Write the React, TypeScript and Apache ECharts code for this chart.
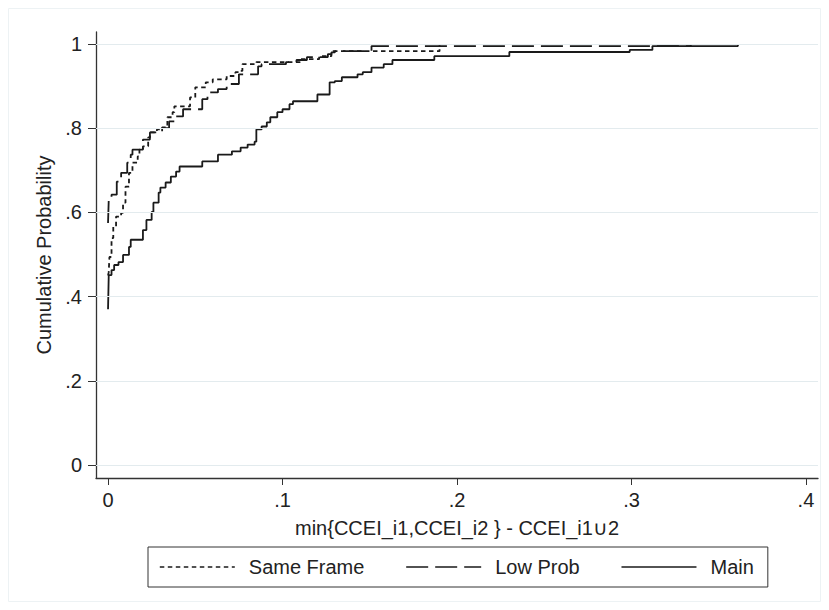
import React, { useEffect, useRef } from 'react';
import * as echarts from 'echarts';

const seriesNames = ['Same Frame', 'Low Prob', 'Main'];

const sameFrame: [number, number][] = [
  [0, 0.45], [0.0004, 0.458], [0.0008, 0.494], [0.002, 0.539], [0.003, 0.566],
  [0.0046, 0.59], [0.0075, 0.599], [0.0086, 0.623], [0.010, 0.661], [0.012, 0.694],
  [0.014, 0.718], [0.017, 0.733], [0.018, 0.749], [0.020, 0.757], [0.023, 0.778],
  [0.024, 0.79], [0.028, 0.797], [0.031, 0.802], [0.034, 0.826], [0.037, 0.838],
  [0.038, 0.852], [0.047, 0.873], [0.050, 0.897], [0.056, 0.909], [0.060, 0.916],
  [0.068, 0.924], [0.073, 0.933], [0.075, 0.936], [0.077, 0.952], [0.085, 0.957],
  [0.110, 0.964], [0.121, 0.971], [0.128, 0.976], [0.129, 0.983], [0.190, 1.0],
];

const lowProb: [number, number][] = [
  [0, 0.575], [0.0004, 0.63], [0.002, 0.642], [0.005, 0.673], [0.0075, 0.694],
  [0.011, 0.718], [0.013, 0.737], [0.014, 0.749], [0.020, 0.773], [0.024, 0.79],
  [0.031, 0.80], [0.035, 0.816], [0.038, 0.828], [0.043, 0.845], [0.054, 0.869],
  [0.057, 0.885], [0.063, 0.893], [0.068, 0.905], [0.075, 0.928], [0.086, 0.947],
  [0.088, 0.952], [0.102, 0.957], [0.108, 0.962], [0.114, 0.969], [0.126, 0.976],
  [0.128, 0.98], [0.130, 0.983], [0.151, 0.995], [0.334, 1.0],
];

const mainData: [number, number][] = [
  [0, 0.37], [0.0004, 0.451], [0.002, 0.463], [0.0035, 0.475], [0.006, 0.482],
  [0.0086, 0.499], [0.012, 0.518], [0.013, 0.535], [0.020, 0.558], [0.022, 0.582],
  [0.025, 0.601], [0.026, 0.623], [0.029, 0.647], [0.030, 0.659], [0.033, 0.671],
  [0.036, 0.685], [0.039, 0.697], [0.041, 0.709], [0.054, 0.721], [0.063, 0.737],
  [0.071, 0.745], [0.076, 0.754], [0.080, 0.761], [0.084, 0.768], [0.085, 0.797],
  [0.088, 0.804], [0.091, 0.814], [0.093, 0.826], [0.097, 0.838], [0.100, 0.845],
  [0.104, 0.857], [0.106, 0.864], [0.120, 0.88], [0.127, 0.909], [0.130, 0.912],
  [0.134, 0.921], [0.143, 0.928], [0.146, 0.933], [0.151, 0.944], [0.158, 0.952],
  [0.163, 0.962], [0.187, 0.971], [0.230, 0.981], [0.299, 0.986], [0.312, 0.995],
  [0.361, 1.0],
];

const xTicks = [0, 0.1, 0.2, 0.3, 0.4];
const yTicks = [0, 0.2, 0.4, 0.6, 0.8, 1];
const xTitle = 'min{CCEI_i1,CCEI_i2 } - CCEI_i1\u222A2';
const yTitle = 'Cumulative Probability';

const FONT = '"Liberation Sans", Arial, Helvetica, sans-serif';
const INK = '#1a1a1a';

const fmt = (v: number) => {
  const s = String(Math.round(v * 10) / 10);
  return s.startsWith('0.') ? s.slice(1) : s;
};

export default function App() {
  const ref = useRef<HTMLDivElement>(null);
  useEffect(() => {
    if (!ref.current) return;
    const chart = echarts.init(ref.current, undefined, { renderer: 'svg' });
    const lineBase = { type: 'line', step: 'end', symbol: 'none', showSymbol: false, z: 3 };
    chart.setOption({
      animation: false,
      backgroundColor: '#ffffff',
      textStyle: { fontFamily: FONT },
      grid: { left: 96, right: 11, top: 32, bottom: 132, containLabel: false, outerBoundsMode: 'none' },
      graphic: [
        {
          type: 'rect',
          shape: { x: 8.5, y: 8.5, width: 812, height: 593 },
          style: { fill: 'none', stroke: '#edf2f4', lineWidth: 1 },
          silent: true,
          z: 0,
        },
      ],
      legend: {
        data: seriesNames,
        left: 148,
        top: 547,
        orient: 'horizontal',
        itemWidth: 75,
        itemHeight: 14,
        itemGap: 41,
        padding: [10, 14, 10, 11],
        borderColor: '#333',
        borderWidth: 1,
        itemStyle: { opacity: 0, borderWidth: 0 },
        lineStyle: { width: 1.6 },
        textStyle: { fontSize: 20, color: '#222', fontFamily: FONT, padding: [0, 0, 0, 9] },
      },
      xAxis: {
        type: 'value',
        min: -0.0069,
        max: 0.4069,
        axisLine: { show: true, onZero: false, lineStyle: { color: '#333', width: 1.3 } },
        axisTick: { show: true, length: 7, customValues: xTicks, lineStyle: { color: '#333', width: 1 } },
        axisLabel: { customValues: xTicks, formatter: fmt, fontSize: 20, color: '#222', margin: 12, fontFamily: FONT },
        splitLine: { show: false },
        name: xTitle,
        nameLocation: 'middle',
        nameGap: 40,
        nameTextStyle: { fontSize: 20, color: '#222', fontFamily: FONT },
      },
      yAxis: {
        type: 'value',
        min: -0.031,
        max: 1.0285,
        axisLine: { show: true, onZero: false, lineStyle: { color: '#333', width: 1.3 } },
        axisTick: { show: true, length: 8, customValues: yTicks, lineStyle: { color: '#333', width: 1 } },
        axisLabel: { customValues: yTicks, formatter: fmt, fontSize: 20, color: '#222', margin: 14, fontFamily: FONT },
        splitLine: { show: false },
        name: yTitle,
        nameLocation: 'middle',
        nameGap: 42,
        nameTextStyle: { fontSize: 20, color: '#222', fontFamily: FONT },
      },
      series: [
        {
          name: '__grid',
          type: 'line',
          data: [],
          z: 1,
          markLine: {
            silent: true,
            symbol: 'none',
            label: { show: false },
            lineStyle: { color: '#e3ebee', type: 'solid', width: 1 },
            data: yTicks.map((v) => ({ yAxis: v })),
          },
        },
        { ...lineBase, name: seriesNames[0], data: sameFrame, lineStyle: { color: INK, width: 1.8, type: [4.5, 3.5] }, itemStyle: { color: INK } },
        { ...lineBase, name: seriesNames[1], data: lowProb, lineStyle: { color: INK, width: 1.8, type: [22, 7] }, itemStyle: { color: INK } },
        { ...lineBase, name: seriesNames[2], data: mainData, lineStyle: { color: INK, width: 1.8, type: 'solid' }, itemStyle: { color: INK } },
      ],
    });
    return () => chart.dispose();
  }, []);
  return (
    <div
      ref={ref}
      style={{ position: 'fixed', left: 0, top: 0, width: 829, height: 610, background: '#fff' }}
    />
  );
}
